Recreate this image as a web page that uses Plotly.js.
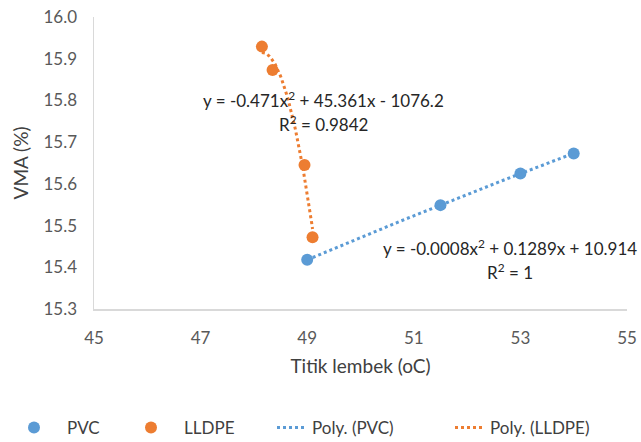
<!DOCTYPE html>
<html><head><meta charset="utf-8">
<script src="https://cdn.plot.ly/plotly-3.0.1.min.js"></script>
<style>body{margin:0;background:#fff}#c{width:641px;height:442px}</style>
</head><body><div id="c"></div>
<script>
const pvcX = [49, 51.5, 53, 54];
const pvcY = [15.418, 15.549, 15.625, 15.673];
const lldpeX = [48.15, 48.35, 48.95, 49.1];
const lldpeY = [15.929, 15.873, 15.645, 15.472];
const seriesNames = ['PVC', 'LLDPE', 'Poly. (PVC)', 'Poly. (LLDPE)'];
const pvcEq = 'y = -0.0008x<sup>2</sup> + 0.1289x + 10.914';
const pvcR2 = 'R<sup>2</sup> = 1';
const lldpeEq = 'y = -0.471x<sup>2</sup> + 45.361x - 1076.2';
const lldpeR2 = 'R<sup>2</sup> = 0.9842';

function quadFit(xs, ys) {
  const n = xs.length, m = xs.reduce((a,b)=>a+b,0)/n;
  const u = xs.map(x=>x-m);
  let S=[0,0,0,0,0], T=[0,0,0];
  for (let i=0;i<n;i++){ let p=1; for(let k=0;k<5;k++){S[k]+=p; if(k<3)T[k]+=p*ys[i]; p*=u[i];} }
  const A=[[S[0],S[1],S[2],T[0]],[S[1],S[2],S[3],T[1]],[S[2],S[3],S[4],T[2]]];
  for(let i=0;i<3;i++){ for(let j=i+1;j<3;j++){ const f=A[j][i]/A[i][i]; for(let k=i;k<4;k++)A[j][k]-=f*A[i][k]; } }
  const c=[0,0,0];
  for(let i=2;i>=0;i--){ let s=A[i][3]; for(let k=i+1;k<3;k++)s-=A[i][k]*c[k]; c[i]=s/A[i][i]; }
  const lo=Math.min(...xs), hi=Math.max(...xs), N=60, fx=[], fy=[];
  for(let i=0;i<=N;i++){ const x=lo+(hi-lo)*i/N, d=x-m; fx.push(x); fy.push(c[0]+c[1]*d+c[2]*d*d); }
  return [fx, fy];
}
const [pfx, pfy] = quadFit(pvcX, pvcY);
const [lfx, lfy] = quadFit(lldpeX, lldpeY);

const blue = '#5B9BD5', orange = '#ED7D31';
const pad = '\u00a0\u00a0\u00a0';
const data = [
  {x: pvcX, y: pvcY, mode: 'markers', name: pad + seriesNames[0], legend: 'legend', marker: {color: blue, size: 12}},
  {x: lldpeX, y: lldpeY, mode: 'markers', name: pad + seriesNames[1], legend: 'legend2', marker: {color: orange, size: 12}},
  {x: pfx, y: pfy, mode: 'lines', name: seriesNames[2], legend: 'legend3', line: {color: blue, width: 3, dash: 'dot'}},
  {x: lfx, y: lfy, mode: 'lines', name: seriesNames[3], legend: 'legend4', line: {color: orange, width: 3, dash: 'dot'}}
];
const FF = 'Lato, "Open Sans", sans-serif';
const legFont = {family: FF, size: 17, color: '#404040'};
function leg(xpx) {
  return {x: xpx / 641, xref: 'container', xanchor: 'left', y: 1 - 428 / 442, yref: 'container', yanchor: 'middle',
          orientation: 'h', font: legFont, bgcolor: 'rgba(0,0,0,0)', borderwidth: 0};
}
const annFont = {family: FF, size: 17, color: '#262626'};
const layout = {
  width: 641, height: 442,
  margin: {l: 94, r: 14, t: 17, b: 133},
  paper_bgcolor: '#fff', plot_bgcolor: '#fff',
  font: {family: FF, size: 17, color: '#404040'},
  showlegend: true,
  legend: leg(14), legend2: leg(131), legend3: leg(272), legend4: leg(450),
  xaxis: {range: [45, 55], dtick: 2, tick0: 45, showgrid: false, zeroline: false, automargin: false,
          showline: true, linecolor: '#d9d9d9', linewidth: 1.5, ticks: '', ticklabelstandoff: 13,
          tickfont: {size: 17, color: '#595959'},
          title: {text: 'Titik lembek (oC)', font: {size: 19, color: '#404040'}, standoff: 13}},
  yaxis: {range: [15.3, 16.0], dtick: 0.1, tick0: 15.3, tickformat: '.1f', showgrid: false, zeroline: false, automargin: false,
          showline: true, linecolor: '#d9d9d9', linewidth: 1.5, ticks: '', ticklabelstandoff: 12,
          tickfont: {size: 17, color: '#595959'},
          title: {text: 'VMA (%)', font: {size: 19, color: '#404040'}, standoff: 10}},
  annotations: [
    {x: 49.315, y: 15.803, xref: 'x', yref: 'y', text: lldpeEq, showarrow: false, font: annFont},
    {x: 49.315, y: 15.744, xref: 'x', yref: 'y', text: lldpeR2, showarrow: false, font: annFont},
    {x: 52.8, y: 15.448, xref: 'x', yref: 'y', text: pvcEq, showarrow: false, font: annFont},
    {x: 52.8, y: 15.391, xref: 'x', yref: 'y', text: pvcR2, showarrow: false, font: annFont}
  ]
};
Plotly.newPlot('c', data, layout, {displayModeBar: false, staticPlot: true});
</script>
</body></html>
